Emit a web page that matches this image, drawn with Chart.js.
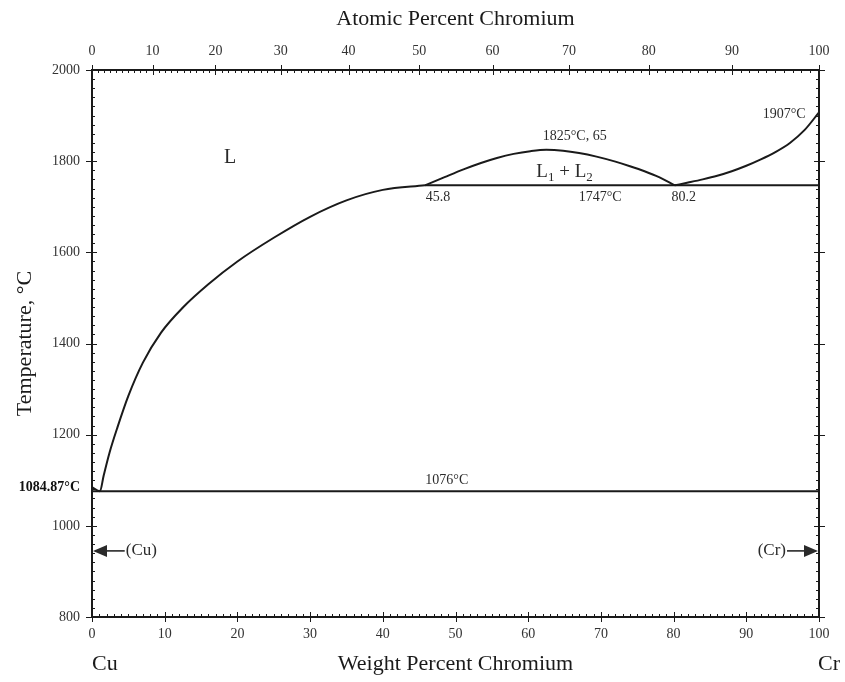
<!DOCTYPE html>
<html><head><meta charset="utf-8">
<script src="https://cdn.jsdelivr.net/npm/chart.js@4/dist/chart.umd.min.js"></script>
<style>html,body{margin:0;padding:0;background:#fff;}#wrap{width:845px;height:682px;}</style>
</head><body><div id="wrap"><canvas id="c" width="845" height="682"></canvas></div>
<script>
// ---- data ----
const weightTicks = [0,10,20,30,40,50,60,70,80,90,100];
const atomicTicks = [0,10,20,30,40,50,60,70,80,90,100];
const tempTicks = [800,1000,1200,1400,1600,1800,2000];
const cuMeltingPoint = 1084.87;

const liquidusCuX = [0, 1.1, 1.6, 2.4, 3.5, 5.0, 7.0, 9.5, 12.5, 16.0, 20.0, 25.0, 30.0, 35.0, 40.0, 45.8];
const liquidusCuT = [1084.87, 1076, 1110, 1160, 1216, 1285, 1358, 1424, 1479, 1530, 1580, 1632, 1678, 1714, 1737, 1747];

const gapX = [45.8, 48.5, 51.1, 53.5, 55.7, 58.0, 60.3, 62.5, 64.8, 67.0, 69.4, 72.0, 74.0, 76.0, 78.0, 80.2];
const gapT = [1747, 1765, 1782, 1796, 1807, 1816, 1822, 1825, 1823, 1818, 1810, 1799, 1789, 1778, 1765, 1747];

const liquidusCrX = [80.2, 82.0, 84.0, 86.0, 88.0, 90.0, 92.0, 94.0, 96.0, 98.0, 100];
const liquidusCrT = [1747, 1753, 1760, 1768, 1778, 1790, 1804, 1820, 1840, 1868, 1907];

const monotecticX = [45.8, 100];
const monotecticT = [1747, 1747];
const eutecticX = [0, 100];
const eutecticT = [1076, 1076];
const cuSolidusX = [0, 0];
const cuSolidusT = [800, 1084.87];

// text annotations: text, wt% Cr, temperature
const labelTexts = ['1825°C, 65', '45.8', '1747°C', '80.2', '1907°C', '1076°C'];
const labelWt =    [66.4, 47.6, 69.9, 81.4, 95.2, 48.8];
const labelT =     [1855, 1721, 1721, 1721, 1902, 1099];

const phaseL = { wt: 19, t: 1807 };
const phaseL1L2 = { wt: 65, t: 1776 };
const arrowCu = { text: '(Cu)', tip: 0, tail: 4.5, t: 945 };
const arrowCr = { text: '(Cr)', tip: 100, tail: 95.6, t: 945 };

// ---- helpers ----
const SERIF = '"Liberation Serif", "DejaVu Serif", serif';
const INK = '#1a1a1a';
function atToWt(a) { return 100 * a * 51.996 / (a * 51.996 + (100 - a) * 63.546); }
function pts(xs, ts) { return xs.map((x, i) => ({ x: x, y: ts[i] })); }
function lineSet(xs, ts, smooth) {
  return { data: pts(xs, ts), showLine: true, borderColor: INK, borderWidth: 2,
    pointRadius: 0, fill: false, cubicInterpolationMode: smooth ? 'monotone' : 'default', tension: 0 };
}

const decorPlugin = {
  id: 'decor',
  afterDraw(chart) {
    const ctx = chart.ctx;
    const sx = chart.scales.x, sx2 = chart.scales.x2, sy = chart.scales.y;
    const a = chart.chartArea;
    ctx.save();
    ctx.strokeStyle = INK;
    ctx.lineWidth = 1;
    // ticks
    ctx.beginPath();
    for (let v = 0; v <= 100; v++) {
      const px = Math.round(sx.getPixelForValue(v)) + 0.5;
      const major = v % 10 === 0;
      ctx.moveTo(px, a.bottom - (major ? 5 : 3));
      ctx.lineTo(px, a.bottom + (major ? 5 : 1));
      const qx = Math.round(sx2.getPixelForValue(atToWt(v))) + 0.5;
      ctx.moveTo(qx, a.top - (major ? 5 : 1));
      ctx.lineTo(qx, a.top + (major ? 5 : 3));
    }
    for (let t = 800; t <= 2000; t += 20) {
      const py = Math.round(sy.getPixelForValue(t)) + 0.5;
      const major = t % 200 === 0;
      ctx.moveTo(a.left - (major ? 6 : 1), py);
      ctx.lineTo(a.left + (major ? 5 : 3), py);
      ctx.moveTo(a.right - (major ? 5 : 3), py);
      ctx.lineTo(a.right + (major ? 6 : 1), py);
    }
    ctx.stroke();

    // labels
    ctx.fillStyle = '#2a2a2a';
    ctx.textAlign = 'center';
    ctx.textBaseline = 'middle';
    ctx.font = '14px ' + SERIF;
    labelTexts.forEach((s, i) => {
      ctx.fillText(s, sx.getPixelForValue(labelWt[i]), sy.getPixelForValue(labelT[i]));
    });
    ctx.font = '20px ' + SERIF;
    ctx.fillText('L', sx.getPixelForValue(phaseL.wt), sy.getPixelForValue(phaseL.t));

    // L1 + L2
    const parts = [['L', 19, 0], ['1', 13, 5], [' + L', 19, 0], ['2', 13, 5]];
    let total = 0;
    parts.forEach(p => { ctx.font = p[1] + 'px ' + SERIF; total += ctx.measureText(p[0]).width; });
    let cx = sx.getPixelForValue(phaseL1L2.wt) - total / 2;
    const cy = sy.getPixelForValue(phaseL1L2.t);
    ctx.textAlign = 'left';
    parts.forEach(p => {
      ctx.font = p[1] + 'px ' + SERIF;
      ctx.fillText(p[0], cx, cy + p[2]);
      cx += ctx.measureText(p[0]).width;
    });

    // arrows
    ctx.font = '17px ' + SERIF;
    [arrowCu, arrowCr].forEach(ar => {
      const tip = sx.getPixelForValue(ar.tip) + (ar.tip < ar.tail ? 1 : -1);
      const tail = sx.getPixelForValue(ar.tail);
      const py = sy.getPixelForValue(ar.t);
      const dir = tail > tip ? 1 : -1;
      ctx.lineWidth = 1.5;
      ctx.beginPath(); ctx.moveTo(tail, py); ctx.lineTo(tip + dir * 10, py); ctx.stroke();
      ctx.beginPath();
      ctx.moveTo(tip, py);
      ctx.lineTo(tip + dir * 14, py - 6);
      ctx.lineTo(tip + dir * 14, py + 6);
      ctx.closePath(); ctx.fill();
      ctx.textAlign = dir > 0 ? 'left' : 'right';
      ctx.fillText(ar.text, tail + dir * 1, py);
    });

    // Cu / Cr end labels
    ctx.font = '22px ' + SERIF;
    ctx.fillStyle = INK;
    ctx.textAlign = 'left';
    ctx.fillText('Cu', 92, 664);
    ctx.fillText('Cr', 818, 664);
    ctx.restore();
  }
};

new Chart(document.getElementById('c'), {
  type: 'scatter',
  data: {
    datasets: [
      lineSet(liquidusCuX, liquidusCuT, true),
      lineSet(gapX, gapT, true),
      lineSet(liquidusCrX, liquidusCrT, true),
      lineSet(monotecticX, monotecticT, false),
      lineSet(eutecticX, eutecticT, false),
      lineSet(cuSolidusX, cuSolidusT, false)
    ]
  },
  options: {
    responsive: false, animation: false, devicePixelRatio: 1,
    layout: { padding: 0 },
    plugins: { legend: { display: false }, tooltip: { enabled: false } },
    scales: {
      x: {
        type: 'linear', position: 'bottom', min: 0, max: 100,
        afterBuildTicks: s => { s.ticks = weightTicks.map(v => ({ value: v })); },
        ticks: { font: { family: SERIF, size: 14 }, color: '#333', padding: 9, maxRotation: 0, autoSkip: false },
        grid: { display: false, drawTicks: false, tickLength: 0 },
        border: { display: true, color: INK, width: 2 },
        title: { display: true, text: 'Weight Percent Chromium', color: INK,
          font: { family: SERIF, size: 22, lineHeight: 1.2 }, padding: { top: 0, bottom: 5 } },
        afterFit: s => { s.height = 65; }
      },
      x2: {
        type: 'linear', position: 'top', min: 0, max: 100,
        afterBuildTicks: s => { s.ticks = atomicTicks.map(a => ({ value: atToWt(a) })); },
        ticks: { font: { family: SERIF, size: 14 }, color: '#333', padding: 10, maxRotation: 0, autoSkip: false,
          callback: (v, i) => String(atomicTicks[i]) },
        grid: { display: false, drawTicks: false, tickLength: 0 },
        border: { display: true, color: INK, width: 2 },
        title: { display: true, text: 'Atomic Percent Chromium', color: INK,
          font: { family: SERIF, size: 22, lineHeight: 1.2 }, padding: { top: 6, bottom: 0 } },
        afterFit: s => { s.height = 70; }
      },
      y: {
        type: 'linear', position: 'left', min: 800, max: 2000,
        afterBuildTicks: s => { s.ticks = tempTicks.concat([cuMeltingPoint]).sort((p, q) => p - q).map(v => ({ value: v })); },
        ticks: {
          color: c => (c.tick && c.tick.value === cuMeltingPoint) ? '#111' : '#333',
          font: c => ({ family: SERIF, size: 14, weight: (c.tick && c.tick.value === cuMeltingPoint) ? 'bold' : 'normal' }),
          padding: 12, autoSkip: false,
          callback: v => v === cuMeltingPoint ? '1084.87°C' : String(v)
        },
        grid: { display: false, drawTicks: false, tickLength: 0 },
        border: { display: true, color: INK, width: 2 },
        title: { display: true, text: 'Temperature, °C', color: INK,
          font: { family: SERIF, size: 22, lineHeight: 1.2 }, padding: { top: 12, bottom: 0 } },
        afterFit: s => { s.width = 92; }
      },
      y2: {
        type: 'linear', position: 'right', min: 800, max: 2000,
        ticks: { display: false },
        grid: { display: false, drawTicks: false, tickLength: 0 },
        border: { display: true, color: INK, width: 2 },
        afterFit: s => { s.width = 26; }
      }
    }
  },
  plugins: [decorPlugin]
});
</script>
</body></html>
